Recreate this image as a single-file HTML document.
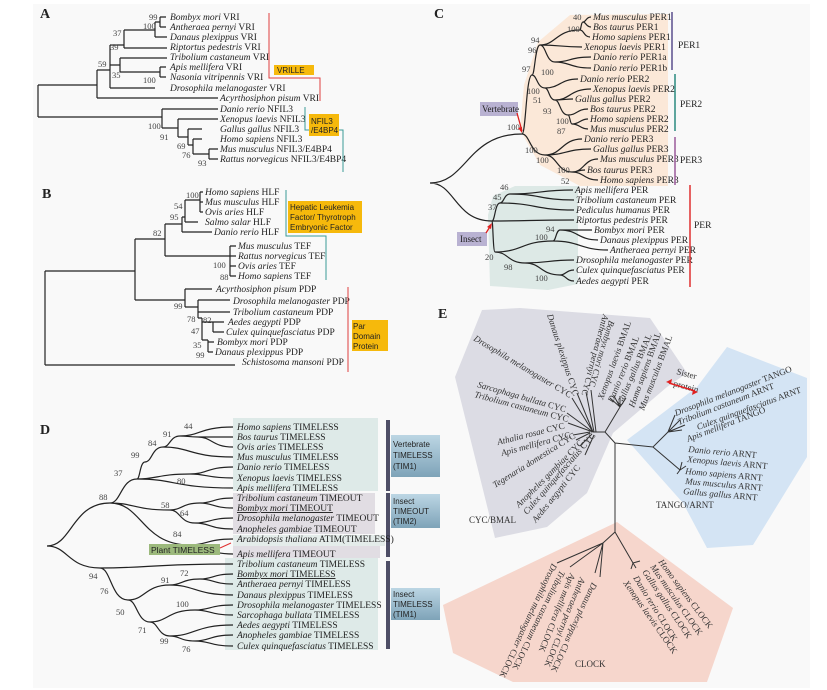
<!DOCTYPE html>
<html><head><meta charset="utf-8"><style>
body{margin:0;background:#fff}
svg{display:block}
text{font-family:"Liberation Serif",serif;font-size:9.5px;fill:#222}
.n{font-size:8.5px;fill:#444}
.L{font-size:14px;font-weight:bold;fill:#222}
.e{font-size:9px;fill:#333}
.s{font-family:"Liberation Sans",sans-serif;font-size:8px;fill:#222}
path.t{fill:none;stroke:#222;stroke-width:1.2}
i{font-style:italic}
</style></head><body>
<svg width="827" height="690" viewBox="0 0 827 690" xmlns="http://www.w3.org/2000/svg">
<rect x="33" y="4" width="777" height="684" fill="#f9f9f9"/>
<!-- ===== A ===== -->
<text class="L" x="40" y="18">A</text>
<path class="t" d="M38 85V117M38 85H97M97 70V98M97 98H218M97 70H110M110 45V88M110 88H155M110 45H124M124 30V48M124 48H167M124 30H155M155 22V37M155 37H167M155 22H160M160 17V27M160 17H166M160 27H166M110 65H120M120 58V72M120 58H167M120 72H160M160 67V77M160 67H166M160 77H166
M38 117H162M162 109V128M162 109H218M162 128H178M178 119V137M178 119H218M178 137H188M188 129V145M188 129H202M188 145H193M193 139V154M193 139H202M193 154H209M209 149V159M209 149H218M209 159H218"/>
<g>
<text x="170" y="20"><tspan font-style="italic">Bombyx mori</tspan> VRI</text>
<text x="170" y="30"><tspan font-style="italic">Antheraea pernyi</tspan> VRI</text>
<text x="170" y="40"><tspan font-style="italic">Danaus plexippus</tspan> VRI</text>
<text x="170" y="50"><tspan font-style="italic">Riptortus pedestris</tspan> VRI</text>
<text x="170" y="60"><tspan font-style="italic">Tribolium castaneum</tspan> VRI</text>
<text x="170" y="70"><tspan font-style="italic">Apis mellifera</tspan> VRI</text>
<text x="170" y="80"><tspan font-style="italic">Nasonia vitripennis</tspan> VRI</text>
<text x="170" y="91"><tspan font-style="italic">Drosophila melanogaster</tspan> VRI</text>
<text x="220" y="101"><tspan font-style="italic">Acyrthosiphon pisum</tspan> VRI</text>
<text x="220" y="112"><tspan font-style="italic">Danio rerio</tspan> NFIL3</text>
<text x="220" y="122"><tspan font-style="italic">Xenopus laevis</tspan> NFIL3</text>
<text x="220" y="132"><tspan font-style="italic">Gallus gallus</tspan> NFIL3</text>
<text x="220" y="142"><tspan font-style="italic">Homo sapiens</tspan> NFIL3</text>
<text x="220" y="152"><tspan font-style="italic">Mus musculus</tspan> NFIL3/E4BP4</text>
<text x="220" y="162"><tspan font-style="italic">Rattus norvegicus</tspan> NFIL3/E4BP4</text>
</g>
<g class="n"><text class="n" x="149" y="20">99</text><text class="n" x="143" y="29">100</text><text class="n" x="113" y="36">37</text><text class="n" x="110" y="50">39</text><text class="n" x="98" y="67">59</text><text class="n" x="112" y="78">35</text><text class="n" x="143" y="83">100</text><text class="n" x="148" y="129">100</text><text class="n" x="160" y="140">91</text><text class="n" x="177" y="149">69</text><text class="n" x="182" y="158">76</text><text class="n" x="198" y="166">93</text></g>
<path d="M269 13V78H320V101" fill="none" stroke="#e04040" stroke-width="1"/>
<rect x="274" y="65" width="40" height="10" fill="#f6b90c"/><text x="277" y="73" class="s">VRILLE</text>
<path d="M305 107V130H343V172" fill="none" stroke="#3a9a96" stroke-width="1"/>
<rect x="309" y="114" width="30" height="22" fill="#f6b90c"/><text x="311" y="124" class="s">NFIL3</text><text x="311" y="133" class="s">/E4BP4</text>
<!-- ===== B ===== -->
<text class="L" x="42" y="198">B</text>
<path class="t" d="M45 271V365M45 365H235M45 271H135M135 239V300M135 239H165M165 224V256M165 224H182M182 217V232M182 232H212M182 217H185M185 200V222M185 222H198M185 200H200M200 192V212M200 192H203M200 202H203M200 212H203M165 256H230M230 246V276M230 246H236M230 256H236M230 266H236M230 276H236
M135 300H185M185 289V307M185 289H212M185 307H198M198 300V318M198 300H230M198 312H230M198 318H202M202 318V340M202 322H213M213 322V332M213 322H224M213 332H224M202 340H208M208 340V352M208 342H214M208 352H213"/>
<g>
<text x="205" y="195"><tspan font-style="italic">Homo sapiens</tspan> HLF</text>
<text x="205" y="205"><tspan font-style="italic">Mus musculus</tspan> HLF</text>
<text x="205" y="215"><tspan font-style="italic">Ovis aries</tspan> HLF</text>
<text x="205" y="225"><tspan font-style="italic">Salmo salar</tspan> HLF</text>
<text x="214" y="235"><tspan font-style="italic">Danio rerio</tspan> HLF</text>
<text x="238" y="249"><tspan font-style="italic">Mus musculus</tspan> TEF</text>
<text x="238" y="259"><tspan font-style="italic">Rattus norvegicus</tspan> TEF</text>
<text x="238" y="269"><tspan font-style="italic">Ovis aries</tspan> TEF</text>
<text x="238" y="279"><tspan font-style="italic">Homo sapiens</tspan> TEF</text>
<text x="216" y="292"><tspan font-style="italic">Acyrthosiphon pisum</tspan> PDP</text>
<text x="233" y="304"><tspan font-style="italic">Drosophila melanogaster</tspan> PDP</text>
<text x="233" y="315"><tspan font-style="italic">Tribolium castaneum</tspan> PDP</text>
<text x="228" y="325"><tspan font-style="italic">Aedes aegypti</tspan> PDP</text>
<text x="226" y="335"><tspan font-style="italic">Culex quinquefasciatus</tspan> PDP</text>
<text x="217" y="345"><tspan font-style="italic">Bombyx mori</tspan> PDP</text>
<text x="215" y="355"><tspan font-style="italic">Danaus plexippus</tspan> PDP</text>
<text x="242" y="365"><tspan font-style="italic">Schistosoma mansoni</tspan> PDP</text>
</g>
<g><text class="n" x="186" y="198">100</text><text class="n" x="174" y="209">54</text><text class="n" x="170" y="220">95</text><text class="n" x="153" y="236">82</text><text class="n" x="213" y="268">100</text><text class="n" x="220" y="280">88</text><text class="n" x="174" y="309">99</text><text class="n" x="187" y="322">78</text><text class="n" x="203" y="323">82</text><text class="n" x="191" y="334">47</text><text class="n" x="193" y="348">35</text><text class="n" x="196" y="358">99</text></g>
<path d="M286 190V236H326V280" fill="none" stroke="#3a9a96" stroke-width="1"/>
<rect x="288" y="201" width="74" height="32" fill="#f6b90c"/><text class="s" x="290" y="210">Hepatic Leukemia</text><text class="s" x="290" y="220">Factor/ Thyrotroph</text><text class="s" x="290" y="230">Embryonic Factor</text>
<path d="M348 287V372" fill="none" stroke="#e04040" stroke-width="1"/>
<rect x="352" y="320" width="36" height="31" fill="#f6b90c"/><text class="s" x="353" y="329">Par</text><text class="s" x="353" y="339">Domain</text><text class="s" x="353" y="349">Protein</text>
<!-- ===== C ===== -->
<text class="L" x="434" y="18">C</text>
<polygon points="520,130 524,85 538,42 570,15 668,14 668,186 580,186 540,165" fill="#fbe8d8"/>
<polygon points="488,215 493,196 515,186 578,186 578,284 548,290 490,286" fill="#dde9e6"/>
<path class="t" d="M430 183C467 183 467 134 522 134M430 183C455 183 455 221 492 221
M522 134C526 134 526 75 532 75M522 134C530 134 530 155 545 155
M532 75C535 75 535 45 540 45M532 75C537 75 537 88 545 88
M540 45C556 45 556 30 580 30M580 30C581 30 581 22 583 22M583 22C586 22 586 17 591 17M583 22C586 22 586 27 591 27M580 30C584 30 584 37 590 37M540 45C560 45 560 47 582 47M540 45C546 45 546 62 555 62M555 62C570 62 570 57 591 57M555 62C570 62 570 68 591 68
M545 88C560 88 560 79 578 79M545 88C549 88 549 100 555 100M555 100C570 100 570 89 591 89M555 100C565 100 565 99 573 99M555 100C560 100 560 115 568 115M568 115C577 115 577 109 588 109M568 115C570 115 570 124 572 124M572 124C580 124 580 119 588 119M572 124C580 124 580 129 588 129
M545 155C562 155 562 139 582 139M545 155C566 155 566 149 591 149M545 155C557 155 557 172 572 172M572 172C584 172 584 159 598 159M572 172C578 172 578 170 585 170M572 172C584 172 584 180 598 180
M492 221C495 221 495 203 500 203M500 203C504 203 504 194 510 194M510 194C540 194 540 190 573 190M510 194C540 194 540 200 574 200M500 203C535 203 535 210 574 210M492 221C530 221 530 220 574 220M492 221C493 221 493 252 495 252M495 252C522 252 522 241 553 241M553 241C556 241 556 230 560 230M560 230C575 230 575 230 592 230M560 230C578 230 578 240 598 240M553 241C580 241 580 250 608 250M495 252C508 252 508 263 525 263M525 263C548 263 548 260 574 260M525 263C541 263 541 275 560 275M560 275C566 275 566 270 574 270M560 275C566 275 566 281 574 281"/>
<g>
<text x="593" y="20"><tspan font-style="italic">Mus musculus</tspan> PER1</text>
<text x="593" y="30"><tspan font-style="italic">Bos taurus</tspan> PER1</text>
<text x="592" y="40"><tspan font-style="italic">Homo sapiens</tspan> PER1</text>
<text x="584" y="50"><tspan font-style="italic">Xenopus laevis</tspan> PER1</text>
<text x="593" y="60"><tspan font-style="italic">Danio rerio</tspan> PER1a</text>
<text x="593" y="71"><tspan font-style="italic">Danio rerio</tspan> PER1b</text>
<text x="580" y="82"><tspan font-style="italic">Danio rerio</tspan> PER2</text>
<text x="593" y="92"><tspan font-style="italic">Xenopus laevis</tspan> PER2</text>
<text x="575" y="102"><tspan font-style="italic">Gallus gallus</tspan> PER2</text>
<text x="590" y="112"><tspan font-style="italic">Bos taurus</tspan> PER2</text>
<text x="590" y="122"><tspan font-style="italic">Homo sapiens</tspan> PER2</text>
<text x="590" y="132"><tspan font-style="italic">Mus musculus</tspan> PER2</text>
<text x="584" y="142"><tspan font-style="italic">Danio rerio</tspan> PER3</text>
<text x="593" y="152"><tspan font-style="italic">Gallus gallus</tspan> PER3</text>
<text x="600" y="162"><tspan font-style="italic">Mus musculus</tspan> PER3</text>
<text x="587" y="173"><tspan font-style="italic">Bos taurus</tspan> PER3</text>
<text x="600" y="183"><tspan font-style="italic">Homo sapiens</tspan> PER3</text>
<text x="575" y="193"><tspan font-style="italic">Apis mellifera</tspan> PER</text>
<text x="576" y="203"><tspan font-style="italic">Tribolium castaneum</tspan> PER</text>
<text x="576" y="213"><tspan font-style="italic">Pediculus humanus</tspan> PER</text>
<text x="576" y="223"><tspan font-style="italic">Riptortus pedestris</tspan> PER</text>
<text x="594" y="233"><tspan font-style="italic">Bombyx mori</tspan> PER</text>
<text x="600" y="243"><tspan font-style="italic">Danaus plexippus</tspan> PER</text>
<text x="610" y="253"><tspan font-style="italic">Antheraea pernyi</tspan> PER</text>
<text x="576" y="263"><tspan font-style="italic">Drosophila melanogaster</tspan> PER</text>
<text x="576" y="273"><tspan font-style="italic">Culex quinquefasciatus</tspan> PER</text>
<text x="576" y="284"><tspan font-style="italic">Aedes aegypti</tspan> PER</text>
</g>
<g><text class="n" x="573" y="20">40</text><text class="n" x="567" y="32">100</text><text class="n" x="531" y="43">94</text><text class="n" x="528" y="53">96</text><text class="n" x="522" y="72">97</text><text class="n" x="541" y="75">100</text><text class="n" x="527" y="94">100</text><text class="n" x="533" y="103">51</text><text class="n" x="543" y="114">93</text><text class="n" x="556" y="124">100</text><text class="n" x="557" y="134">87</text><text class="n" x="507" y="130">100</text><text class="n" x="525" y="153">100</text><text class="n" x="536" y="163">100</text><text class="n" x="557" y="173">100</text><text class="n" x="561" y="184">52</text><text class="n" x="500" y="190">46</text><text class="n" x="493" y="200">45</text><text class="n" x="488" y="210">37</text><text class="n" x="546" y="232">94</text><text class="n" x="535" y="240">100</text><text class="n" x="485" y="260">20</text><text class="n" x="504" y="270">98</text><text class="n" x="535" y="281">100</text></g>
<path d="M672 12V70" stroke="#5a4e8c" stroke-width="1.5"/><text x="678" y="48">PER1</text>
<path d="M675 74V131" stroke="#2a8a80" stroke-width="1.5"/><text x="680" y="107">PER2</text>
<path d="M675 137V185" stroke="#9a5a9a" stroke-width="1.5"/><text x="680" y="163">PER3</text>
<path d="M690 185V287" stroke="#e03030" stroke-width="1.5"/><text x="694" y="228">PER</text>
<rect x="480" y="102" width="38" height="14" fill="#b9b2d2"/><text x="482" y="112" style="font-size:9px">Vertebrate</text>
<path d="M517 113L522 131" stroke="#e02020" stroke-width="1.3"/><path d="M522 133l-4-5 4-1z" fill="#e02020"/>
<rect x="457" y="232" width="30" height="14" fill="#b9b2d2"/><text x="460" y="242" style="font-size:9px">Insect</text>
<path d="M486 233L491 225" stroke="#e02020" stroke-width="1.3"/><path d="M492 223l-1 6-4-2z" fill="#e02020"/>
<!-- ===== D ===== -->
<text class="L" x="40" y="434">D</text>
<rect x="233" y="418" width="145" height="73" fill="#deeae8"/>
<rect x="233" y="493" width="142" height="41" fill="#e1dde3"/>
<rect x="233" y="535" width="152" height="11" fill="#e4ecea"/>
<rect x="233" y="546" width="147" height="12" fill="#e1dde3"/>
<rect x="225" y="558" width="153" height="92" fill="#deeae8"/>
<rect x="386" y="420" width="4" height="71" fill="#4e4e66"/>
<rect x="386" y="493" width="4" height="64" fill="#4e4e66"/>
<rect x="386" y="561" width="4" height="88" fill="#4e4e66"/>
<defs><linearGradient id="bg" x1="0" y1="0" x2="0" y2="1"><stop offset="0" stop-color="#bcd6e4"/><stop offset="1" stop-color="#7ea3b8"/></linearGradient></defs>
<rect x="391" y="435" width="49" height="42" fill="url(#bg)"/><text class="s" x="393" y="447">Vertebrate</text><text class="s" x="393" y="458">TIMELESS</text><text class="s" x="393" y="469">(TIM1)</text>
<rect x="391" y="494" width="49" height="34" fill="url(#bg)"/><text class="s" x="393" y="504">Insect</text><text class="s" x="393" y="514">TIMEOUT</text><text class="s" x="393" y="524">(TIM2)</text>
<rect x="391" y="588" width="49" height="32" fill="url(#bg)"/><text class="s" x="393" y="597">Insect</text><text class="s" x="393" y="607">TIMELESS</text><text class="s" x="393" y="617">(TIM1)</text>
<path class="t" d="M47 546C72 546 72 503 110 503M47 546C68 546 68 568 100 568
M110 503C121 503 121 479 137 479M110 503C134 503 134 510 170 510M110 503C142 503 142 545 190 545
M137 479C140 479 140 462 145 462M137 479C158 479 158 474 190 474M137 479C175 479 175 488 233 488
M145 462C152 462 152 447 163 447M163 447C170 447 170 436 180 436M180 436C200 436 200 427 233 427M180 436C188 436 188 437 198 437M198 437C212 437 212 437 233 437M198 437C212 437 212 447 233 447M163 447C190 447 190 457 233 457
M190 474C207 474 207 467 233 467M190 474C207 474 207 478 233 478
M170 510C182 510 182 503 200 503M200 503C213 503 213 498 233 498M200 503C213 503 213 508 233 508M170 510C180 510 180 523 195 523M195 523C210 523 210 518 233 518M195 523C210 523 210 529 233 529
M190 545C207 545 207 539 233 539M190 545C207 545 207 554 233 554
M100 568C150 568 150 564 233 564M100 568C111 568 111 600 128 600M128 600C145 600 145 585 170 585M170 585C182 585 182 579 200 579M200 579C213 579 213 574 233 574M200 579C213 579 213 584 233 584M170 585C195 585 195 595 233 595
M128 600C137 600 137 622 150 622M150 622C168 622 168 610 195 610M195 610C210 610 210 605 233 605M195 610C210 610 210 615 233 615M150 622C158 622 158 636 170 636M170 636C195 636 195 625 233 625M170 636C180 636 180 641 195 641M195 641C210 641 210 635 233 635M195 641C210 641 210 646 233 646"/>
<rect x="149" y="544" width="71" height="11" fill="#9cb97c"/><text class="s" x="151" y="553" style="font-size:8.5px">Plant TIMELESS</text>
<path d="M220 548L231 543" stroke="#e03030" stroke-width="1"/>
<g>
<text x="237" y="430"><tspan font-style="italic">Homo sapiens</tspan> TIMELESS</text>
<text x="237" y="440"><tspan font-style="italic">Bos taurus</tspan> TIMELESS</text>
<text x="237" y="450"><tspan font-style="italic">Ovis aries</tspan> TIMELESS</text>
<text x="237" y="460"><tspan font-style="italic">Mus musculus</tspan> TIMELESS</text>
<text x="237" y="470"><tspan font-style="italic">Danio rerio</tspan> TIMELESS</text>
<text x="237" y="481"><tspan font-style="italic">Xenopus laevis</tspan> TIMELESS</text>
<text x="237" y="491"><tspan font-style="italic">Apis mellifera</tspan> TIMELESS</text>
<text x="237" y="501"><tspan font-style="italic">Tribolium castaneum</tspan> TIMEOUT</text>
<text x="237" y="511" text-decoration="underline"><tspan font-style="italic">Bombyx mori</tspan> TIMEOUT</text>
<text x="237" y="521"><tspan font-style="italic">Drosophila melanogaster</tspan> TIMEOUT</text>
<text x="237" y="532"><tspan font-style="italic">Anopheles gambiae</tspan> TIMEOUT</text>
<text x="237" y="542"><tspan font-style="italic">Arabidopsis thaliana</tspan> ATIM(TIMELESS)</text>
<text x="237" y="557"><tspan font-style="italic">Apis mellifera</tspan> TIMEOUT</text>
<text x="237" y="567"><tspan font-style="italic">Tribolium castaneum</tspan> TIMELESS</text>
<text x="237" y="577" text-decoration="underline"><tspan font-style="italic">Bombyx mori</tspan> TIMELESS</text>
<text x="237" y="587"><tspan font-style="italic">Antheraea pernyi</tspan> TIMELESS</text>
<text x="237" y="598"><tspan font-style="italic">Danaus plexippus</tspan> TIMELESS</text>
<text x="237" y="608"><tspan font-style="italic">Drosophila melanogaster</tspan> TIMELESS</text>
<text x="237" y="618"><tspan font-style="italic">Sarcophaga bullata</tspan> TIMELESS</text>
<text x="237" y="628"><tspan font-style="italic">Aedes aegypti</tspan> TIMELESS</text>
<text x="237" y="638"><tspan font-style="italic">Anopheles gambiae</tspan> TIMELESS</text>
<text x="237" y="649"><tspan font-style="italic">Culex quinquefasciatus</tspan> TIMELESS</text>
</g>
<g><text class="n" x="184" y="429">44</text><text class="n" x="163" y="437">91</text><text class="n" x="148" y="446">84</text><text class="n" x="131" y="458">99</text><text class="n" x="114" y="476">37</text><text class="n" x="99" y="500">88</text><text class="n" x="177" y="484">80</text><text class="n" x="161" y="508">58</text><text class="n" x="180" y="516">64</text><text class="n" x="173" y="537">84</text><text class="n" x="89" y="579">94</text><text class="n" x="100" y="594">76</text><text class="n" x="116" y="615">50</text><text class="n" x="138" y="633">71</text><text class="n" x="160" y="644">99</text><text class="n" x="182" y="652">76</text><text class="n" x="180" y="576">72</text><text class="n" x="161" y="583">91</text><text class="n" x="176" y="607">100</text></g>
<!-- ===== E ===== -->
<text class="L" x="438" y="318">E</text>
<polygon points="482,310 520,308 650,318 687,373 667,387 613,433 587,493 547,527 495,538 455,377" fill="#dcdce4"/>
<polygon points="727,347 807,378 807,457 753,545 707,548 683,503 627,440 697,387" fill="#d4e4f4"/>
<polygon points="617,522 733,608 707,682 513,682 453,653 443,605" fill="#f6d6cc"/>
<path d="M615 443L605 432L593 432M605 432L620 407M620 407L614 396M620 407L620 396M620 407L626 398M620 407L610 398M593 432L572 398M593 432L567 413M593 432L568 423M590 432L573 435M590 433L576 440M592 434L580 446M594 435L585 455M593 432L577 393M594 432L586 392M596 432L591 390M615 443L653 447L668 432M668 432L680 420M668 432L685 425M668 432L682 430M668 432L675 415M653 447L680 470M680 470L682 462M680 470L686 466M680 470L677 474M615 443V532M615 532L603 543M603 543L570 567M603 543L557 563M603 543L600 577M603 543L595 573M615 532L633 563M633 563L636 568M633 563L640 561M633 563L631 569" fill="none" stroke="#333" stroke-width="1"/>
<g class="e">
<text class="e" transform="translate(473,340) rotate(31)"><tspan font-style="italic">Drosophila melanogaster</tspan> CYC</text>
<text class="e" transform="translate(477,387) rotate(16)"><tspan font-style="italic">Sarcophaga bullata</tspan> CYC</text>
<text class="e" transform="translate(474,397) rotate(15)"><tspan font-style="italic">Tribolium castaneum</tspan> CYC</text>
<text class="e" transform="translate(498,445) rotate(-14)"><tspan font-style="italic">Athalia rosae</tspan> CYC</text>
<text class="e" transform="translate(502,456) rotate(-15)"><tspan font-style="italic">Apis mellifera</tspan> CYC</text>
<text class="e" transform="translate(495,488) rotate(-32)"><tspan font-style="italic">Tegenaria domestica</tspan> CYC</text>
<text class="e" transform="translate(519,508) rotate(-45)"><tspan font-style="italic">Anopheles gambiae</tspan> CYC</text>
<text class="e" transform="translate(527,515) rotate(-49)"><tspan font-style="italic">Culex quinquefasciatus</tspan> CYC</text>
<text class="e" transform="translate(536,523) rotate(-51)"><tspan font-style="italic">Aedes aegypti</tspan> CYC</text>
<text class="e" transform="translate(547,315) rotate(72)"><tspan font-style="italic">Danaus plexippus</tspan> CYC</text>
<text class="e" transform="translate(603,314) rotate(105)"><tspan font-style="italic">Antheraea pernyi</tspan> CYC</text>
<text class="e" transform="translate(609,320) rotate(107)"><tspan font-style="italic">Bombyx mori</tspan> CYC</text>
<text class="e" transform="translate(603,400) rotate(-70)"><tspan font-style="italic">Xenopus laevis</tspan> BMAL</text>
<text class="e" transform="translate(613,403) rotate(-68)"><tspan font-style="italic">Danio rerio</tspan> BMAL</text>
<text class="e" transform="translate(622,406) rotate(-67)"><tspan font-style="italic">Gallus gallus</tspan> BMAL</text>
<text class="e" transform="translate(634,408) rotate(-70)"><tspan font-style="italic">Homo sapiens</tspan> BMAL</text>
<text class="e" transform="translate(644,411) rotate(-69)"><tspan font-style="italic">Mus musculus</tspan> BMAL</text>
<text class="e" transform="translate(676,416) rotate(-21)"><tspan font-style="italic">Drosophila melanogaster</tspan> TANGO</text>
<text class="e" transform="translate(679,425) rotate(-21)"><tspan font-style="italic">Tribolium castaneum</tspan> ARNT</text>
<text class="e" transform="translate(698,430) rotate(-20)"><tspan font-style="italic">Culex quinquefasciatus</tspan> ARNT</text>
<text class="e" transform="translate(688,442) rotate(-21)"><tspan font-style="italic">Apis mellifera</tspan> TANGO</text>
<text class="e" transform="translate(688,452) rotate(5)"><tspan font-style="italic">Danio rerio</tspan> ARNT</text>
<text class="e" transform="translate(687,462) rotate(5)"><tspan font-style="italic">Xenopus laevis</tspan> ARNT</text>
<text class="e" transform="translate(685,474) rotate(5)"><tspan font-style="italic">Homo sapiens</tspan> ARNT</text>
<text class="e" transform="translate(685,484) rotate(5)"><tspan font-style="italic">Mus musculus</tspan> ARNT</text>
<text class="e" transform="translate(683,494) rotate(5)"><tspan font-style="italic">Gallus gallus</tspan> ARNT</text>
<text class="e" transform="translate(552,563) rotate(115)"><tspan font-style="italic">Drosophila melanogaster</tspan> CLOCK</text>
<text class="e" transform="translate(560,570) rotate(116)"><tspan font-style="italic">Tribolium castaneum</tspan> CLOCK</text>
<text class="e" transform="translate(570,573) rotate(112)"><tspan font-style="italic">Apis mellifera</tspan> CLOCK</text>
<text class="e" transform="translate(580,577) rotate(112)"><tspan font-style="italic">Antheraea pernyi</tspan> CLOCK</text>
<text class="e" transform="translate(592,582) rotate(115)"><tspan font-style="italic">Danaus plexippus</tspan> CLOCK</text>
<text class="e" transform="translate(658,562) rotate(53)"><tspan font-style="italic">Homo sapiens</tspan> CLOCK</text>
<text class="e" transform="translate(650,567) rotate(55)"><tspan font-style="italic">Mus musculus</tspan> CLOCK</text>
<text class="e" transform="translate(642,572) rotate(56)"><tspan font-style="italic">Gallus gallus</tspan> CLOCK</text>
<text class="e" transform="translate(633,578) rotate(58)"><tspan font-style="italic">Danio rerio</tspan> CLOCK</text>
<text class="e" transform="translate(623,583) rotate(55)"><tspan font-style="italic">Xenopus laevis</tspan> CLOCK</text>
<text class="e" transform="translate(676,374) rotate(15)">Sister</text>
<text class="e" transform="translate(673,386) rotate(15)">protein</text>
</g>
<path d="M669 383L695 391" stroke="#e02020" stroke-width="1.5"/><path d="M666 382l6-3-1 5zM698 392l-6 3 1-5z" fill="#e02020"/>
<text class="e" x="656" y="508">TANGO/ARNT</text>
<text class="e" x="469" y="523">CYC/BMAL</text>
<text class="e" x="575" y="667">CLOCK</text>
</svg>
</body></html>
